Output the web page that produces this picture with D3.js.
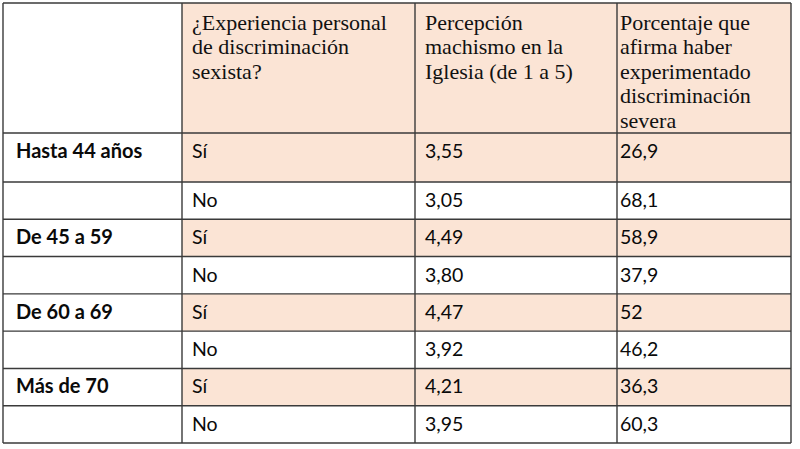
<!DOCTYPE html>
<html>
<head>
<meta charset="utf-8">
<script src="https://cdn.jsdelivr.net/npm/d3@7"></script>
<style>
  html, body { margin: 0; padding: 0; background: #ffffff; }
  svg { display: block; }
</style>
</head>
<body>
<svg id="chart" width="800" height="449"></svg>
<script>
// ---- data ----
const headerLines = [
  [],
  ["¿Experiencia personal", "de discriminación", "sexista?"],
  ["Percepción", "machismo en la", "Iglesia (de 1 a 5)"],
  ["Porcentaje que", "afirma haber", "experimentado", "discriminación", "severa"]
];
const ageGroups = ["Hasta 44 años", "De 45 a 59", "De 60 a 69", "Más de 70"];
const experience = ["Sí", "No"];
const perception = [3.55, 3.05, 4.49, 3.80, 4.47, 3.92, 4.21, 3.95];
const severePct = [26.9, 68.1, 58.9, 37.9, 52, 46.2, 36.3, 60.3];

// ---- layout ----
const svg = d3.select("#chart");
const colEdges = [3, 182, 415, 617, 791];
const headerTop = 3, headerH = 130;
const firstRowH = 49;
const tableBottom = 443;
const nRows = ageGroups.length * experience.length;
const restH = (tableBottom - headerTop - headerH - firstRowH) / (nRows - 1);
const rowTops = d3.range(nRows).map(i => headerTop + headerH + (i === 0 ? 0 : firstRowH + (i - 1) * restH));
const rowHs = d3.range(nRows).map(i => i === 0 ? firstRowH : restH);
const textPad = [12, 10, 10, 3];
const shade = "#fbe4d5";
const lineColor = "#3a3a3a";

const fmtComma = s => s.replace(".", ",");
const fmtPerc = d => fmtComma(d3.format(".2f")(d));
const fmtPct = d => Number.isInteger(d) ? String(d) : fmtComma(d3.format(".1f")(d));

const rows = d3.range(nRows).map(i => ({
  cells: [
    i % 2 === 0 ? ageGroups[i / 2] : "",
    experience[i % 2],
    fmtPerc(perception[i]),
    fmtPct(severePct[i])
  ],
  shaded: i % 2 === 0,
  top: rowTops[i],
  h: rowHs[i]
}));

// backgrounds: header
const gBg = svg.append("g");
gBg.selectAll("rect.h").data(d3.range(1, 4)).join("rect")
  .attr("x", c => colEdges[c]).attr("y", headerTop)
  .attr("width", c => colEdges[c + 1] - colEdges[c]).attr("height", headerH)
  .attr("fill", shade);
// shaded rows
rows.filter(r => r.shaded).forEach(r => {
  gBg.append("rect")
    .attr("x", colEdges[1]).attr("y", r.top)
    .attr("width", colEdges[4] - colEdges[1]).attr("height", r.h)
    .attr("fill", shade);
});

// header text
const gHead = svg.append("g");
headerLines.forEach((lines, c) => {
  gHead.selectAll(null).data(lines).join("text")
    .attr("x", colEdges[c] + textPad[c])
    .attr("y", (d, i) => headerTop + 27 + i * 24.4)
    .attr("font-family", "'Liberation Serif', 'Times New Roman', serif")
    .attr("font-size", 22)
    .attr("fill", "#111")
    .text(d => d);
});

// body text
const gBody = svg.append("g");
rows.forEach(r => {
  r.cells.forEach((t, c) => {
    if (!t) return;
    gBody.append("text")
      .attr("x", colEdges[c] + textPad[c] + (c === 0 ? 1 : 0))
      .attr("y", r.top + 25)
      .attr("font-family", "Lato, 'Open Sans', sans-serif")
      .attr("font-size", c === 0 ? 20 : 19.5)
      .attr("font-weight", c === 0 ? 700 : 400)
      .attr("fill", "#0a0a0a")
      .text(t);
  });
});

// grid lines
const gGrid = svg.append("g").attr("stroke", lineColor).attr("stroke-width", 1.4).attr("fill", "none");
const hLines = [headerTop, headerTop + headerH].concat(rowTops.slice(1), [tableBottom]);
gGrid.selectAll("line.h").data(hLines).join("line")
  .attr("x1", colEdges[0]).attr("x2", colEdges[4])
  .attr("y1", d => d).attr("y2", d => d);
gGrid.selectAll("line.v").data(colEdges).join("line")
  .attr("x1", d => d).attr("x2", d => d)
  .attr("y1", headerTop).attr("y2", tableBottom);
</script>
</body>
</html>
